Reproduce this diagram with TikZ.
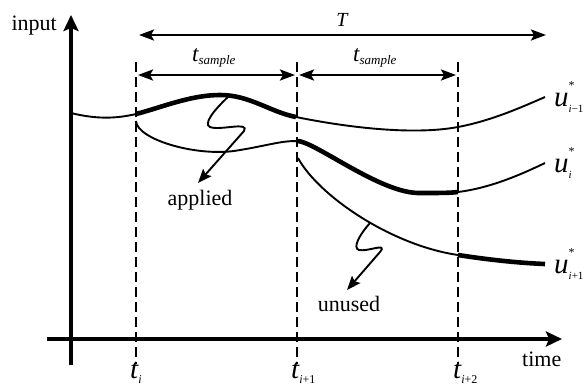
\documentclass[tikz,border=0pt]{standalone}
\usepackage{fontspec}
\setmainfont{Liberation Serif}
\usetikzlibrary{arrows.meta}
\newcommand\mysub[2][-5pt]{\raisebox{#1}{\fontsize{12}{12}\selectfont #2}}
\newcommand\ulabel[1]{{\fontsize{29}{30}\selectfont\itshape u\rlap{\raisebox{17pt}{\fontsize{12}{12}\selectfont\upshape *}}\raisebox{-6pt}{\fontsize{11}{11}\selectfont #1}}}
\newcommand\tlabel[1]{{\fontsize{29}{30}\selectfont\itshape t\mysub{#1}}}
\newcommand\tsample{{\fontsize{23}{24}\selectfont\itshape t\raisebox{-3pt}{\fontsize{13}{13}\selectfont sample}}}
\begin{document}
\begin{tikzpicture}[x=1pt,y=-1pt,
  every node/.style={inner sep=0pt},
  axis/.style={line width=3.6pt,-{Stealth[length=16pt,width=15pt,inset=3pt]}},
  dimarrow/.style={line width=2.6pt,{Stealth[length=15pt,width=11pt,inset=3pt]}-{Stealth[length=15pt,width=11pt,inset=3pt]}},
  guide/.style={line width=2.4pt,dash pattern=on 10pt off 5pt},
  thincurve/.style={line width=1.9pt},
  thickcurve/.style={line width=4.6pt},
  squig/.style={line width=1.9pt,-{Stealth[length=14pt,width=11pt,inset=2.5pt]}},
  txt/.style={font=\fontsize{22}{24}\selectfont}]
\useasboundingbox (0,0) rectangle (586,391);
% axes
\coordinate (yb) at (71,365); \coordinate (yt) at (71,15);
\coordinate (xl) at (47,339); \coordinate (xr) at (562,339);
\draw[axis] (yb) -- (yt);
\draw[axis] (xl) -- (xr);
\node[txt,anchor=base east] (input) at (57,30) {input};
\node[txt,anchor=base west] (time) at (522,366) {time};
% guides
\coordinate (g1t) at (136,62); \coordinate (g1b) at (136,364);
\coordinate (g2t) at (297,62); \coordinate (g2b) at (297,364);
\coordinate (g3t) at (458,62); \coordinate (g3b) at (458,364);
\draw[guide] (g1t) -- (g1b);
\draw[guide] (g2t) -- (g2b);
\draw[guide] (g3t) -- (g3b);
\node[anchor=base west] (ti) at (130,378) {\tlabel{i}};
\node[anchor=base west] (ti1) at (291,378) {\tlabel{i\upshape +1}};
\node[anchor=base west] (ti2) at (453,378) {\tlabel{i\upshape +2}};
% dimension arrows
\coordinate (Tl) at (139,35); \coordinate (Tr) at (546,35);
\draw[dimarrow] (Tl) -- (Tr);
\node[anchor=base,font=\fontsize{20}{22}\selectfont\itshape] (T) at (342,26) {T};
\coordinate (s1l) at (138,75); \coordinate (s1r) at (295,75);
\coordinate (s2l) at (299,75); \coordinate (s2r) at (456,75);
\draw[dimarrow] (s1l) -- (s1r);
\draw[dimarrow] (s2l) -- (s2r);
\node[anchor=base west] (ts1) at (192,61) {\tsample};
\node[anchor=base west] (ts2) at (353,61) {\tsample};
% curve u_{i-1}
\draw[thincurve] (71,113) .. controls (95,119) and (115,119) .. (136,114);
\draw[thickcurve] (136,114) .. controls (160,108) and (190,95) .. (220,95) .. controls (250,95) and (270,112) .. (296,117);
\draw[thincurve] (296,117) .. controls (340,126) and (410,136) .. (458,127) .. controls (490,121) and (520,108) .. (545,97);
% curve u_i
\draw[thincurve] (136,121) .. controls (137,140) and (200,158) .. (240,150) .. controls (265,146) and (280,141) .. (296,141);
\draw[thickcurve] (296,141) .. controls (312,139) and (380,194) .. (420,193) .. controls (440,193) and (450,193) .. (458,192);
\draw[thincurve] (458,192) .. controls (490,188) and (520,175) .. (545,163);
% curve u_{i+1}
\draw[thincurve] (298,158) .. controls (318,195) and (390,245) .. (458,255);
\draw[thickcurve] (458,255) .. controls (490,260) and (520,263) .. (545,264);
% labels
\node[anchor=base west] (u1) at (554,106) {\ulabel{i\upshape −1}};
\node[anchor=base west] (u2) at (554,172) {\ulabel{i}};
\node[anchor=base west] (u3) at (554,273) {\ulabel{i\upshape +1}};
% squiggles
\node[txt,anchor=base] (applied) at (200,205) {applied};
\node[txt,anchor=base] (unused) at (349,311) {unused};
\coordinate (a0) at (228,97); \coordinate (a1) at (198,183);
\draw[squig] (a0) .. controls (214,110) and (203,124) .. (210,127) .. controls (220,131) and (250,121) .. (244,131) -- (a1);
\coordinate (b0) at (370,223); \coordinate (b1) at (347,290);
\draw[squig] (b0) .. controls (360,234) and (352,248) .. (359,250) .. controls (368,252) and (388,242) .. (380,252) -- (b1);
\end{tikzpicture}
\end{document}
